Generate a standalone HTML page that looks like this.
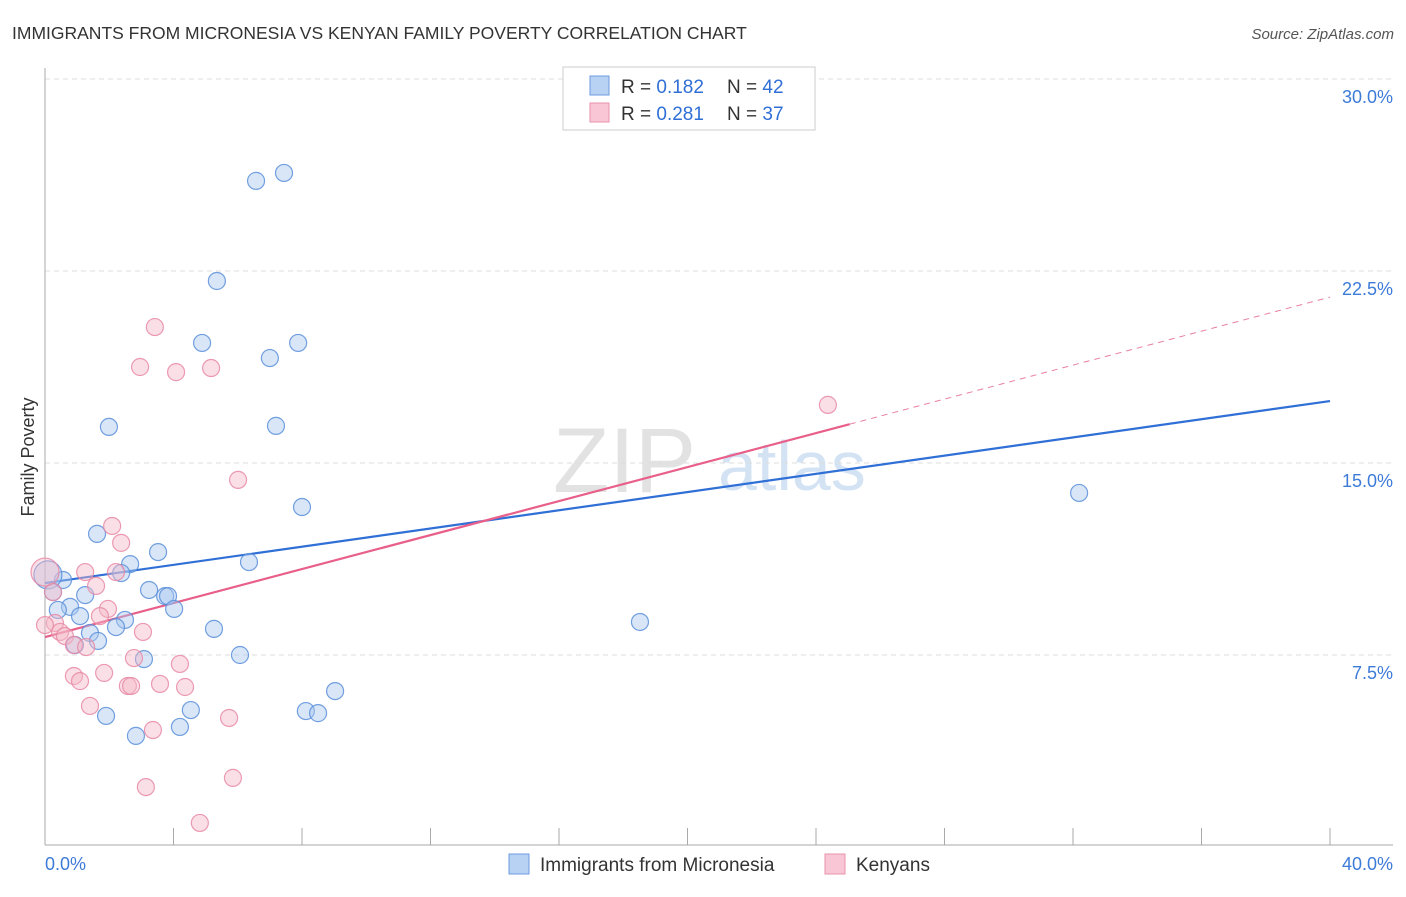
<!DOCTYPE html>
<html><head><meta charset="utf-8"><style>
body{margin:0;background:#fff;font-family:"Liberation Sans",sans-serif;}
svg text{font-family:"Liberation Sans",sans-serif;}
</style></head><body>
<svg id="chart" width="1406" height="892">
<text x="12" y="39" font-size="17.5" fill="#333">IMMIGRANTS FROM MICRONESIA VS KENYAN FAMILY POVERTY CORRELATION CHART</text>
<text x="1394" y="39" font-size="15" fill="#555" font-style="italic" text-anchor="end">Source: ZipAtlas.com</text>
<text x="34" y="457" font-size="18" fill="#333" transform="rotate(-90 34 457)" text-anchor="middle">Family Poverty</text>
<text x="553" y="492" font-size="92" fill="#e2e2e2" font-family="Liberation Serif">ZIP</text>
<text x="718" y="490" font-size="70" fill="#d4e3f4">atlas</text>
<g id="grid"></g><g id="axes"></g><g id="trends"></g><g id="pts"></g>
<g>
<rect x="563" y="67" width="252" height="63" fill="#fff" stroke="#ccc"/>
<rect x="590" y="76" width="19" height="19" fill="#b8d2f3" stroke="#6d9be0"/>
<rect x="590" y="103" width="19" height="19" fill="#f8c6d4" stroke="#ea93ad"/>
<text x="621" y="93" font-size="19" fill="#333">R = <tspan fill="#2f6fd6">0.182</tspan></text>
<text x="727" y="93" font-size="19" fill="#333">N = <tspan fill="#2f6fd6">42</tspan></text>
<text x="621" y="120" font-size="19" fill="#333">R = <tspan fill="#2f6fd6">0.281</tspan></text>
<text x="727" y="120" font-size="19" fill="#333">N = <tspan fill="#2f6fd6">37</tspan></text>
</g>
<g>
<rect x="509" y="854" width="20" height="20" fill="#b8d2f3" stroke="#6d9be0"/>
<text x="540" y="871" font-size="19" fill="#333">Immigrants from Micronesia</text>
<rect x="825" y="854" width="20" height="20" fill="#f8c6d4" stroke="#ea93ad"/>
<text x="856" y="871" font-size="19" fill="#333">Kenyans</text>
</g>
</svg>
<script>
const yTicks=[7.5,15,22.5,30];
const yTickLabels=["7.5%","15.0%","22.5%","30.0%"];
const xTickVals=[0,4,8,12,16,20,24,28,32,36,40];
const blueX=[6.57,7.44,5.35,4.89,7.88,7.00,1.99,7.19,8.00,32.19,1.62,3.52,2.65,6.35,2.37,0.56,0.09,3.24,1.25,3.74,3.83,0.25,0.78,0.40,1.09,4.02,2.49,1.40,2.21,5.26,18.52,0.93,1.65,3.08,6.07,9.03,4.54,8.12,8.50,1.90,4.20,2.83];
const blueY=[26.02,26.33,22.11,19.69,19.69,19.10,16.41,16.45,13.28,13.83,12.23,11.52,11.05,11.13,10.70,10.43,10.63,10.04,9.84,9.80,9.80,9.96,9.38,9.26,9.02,9.30,8.87,8.36,8.59,8.52,8.79,7.89,8.05,7.34,7.50,6.09,5.35,5.31,5.23,5.12,4.69,4.34];
const pinkX=[3.42,2.96,4.08,5.17,24.37,6.01,2.09,2.37,1.25,2.21,1.59,0.25,0.00,1.96,1.71,0.31,0.47,0.62,3.05,0.90,1.28,2.77,4.20,1.84,0.90,1.09,3.58,2.58,2.68,4.36,1.40,5.73,3.36,5.85,3.14,4.82,0.00];
const pinkY=[20.31,18.75,18.55,18.71,17.27,14.34,12.54,11.88,10.74,10.74,10.20,9.96,10.74,9.30,9.02,8.75,8.40,8.24,8.40,7.89,7.81,7.38,7.15,6.80,6.68,6.48,6.37,6.29,6.29,6.25,5.51,5.04,4.57,2.70,2.34,0.94,8.67];
const blueTrend=[10.31,17.42];
const pinkTrend=[8.20,21.48];
const pinkSolidEnd=25.05;
const NS="http://www.w3.org/2000/svg";
const X=v=>45+v/40*1285, Y=v=>847-v/7.5*192;
function mk(t,a,p){const e=document.createElementNS(NS,t);for(const k in a)e.setAttribute(k,a[k]);p.appendChild(e);return e;}
const grid=document.getElementById('grid'),axes=document.getElementById('axes'),tr=document.getElementById('trends'),pts=document.getElementById('pts');
yTicks.forEach((v,i)=>{
 const l=mk('line',{x1:45,x2:1393,y1:Y(v),y2:Y(v),stroke:'#ddd','stroke-dasharray':'5,4'},grid);
 
 
 const t=mk('text',{x:1393,y:Y(v)+24,'font-size':18,fill:'#3d7bd8','text-anchor':'end'},axes);
 t.textContent=yTickLabels[i];
 
 
});
mk('line',{x1:45,x2:45,y1:68,y2:845,stroke:'#aaa'},axes);
mk('line',{x1:45,x2:1393,y1:845,y2:845,stroke:'#aaa'},axes);
xTickVals.forEach(v=>{const l=mk('line',{x1:X(v),x2:X(v),y1:828,y2:845,stroke:'#aaa'},axes);
 
 });
const x0=mk('text',{x:45,y:870,'font-size':18,fill:'#3d7bd8'},axes);x0.textContent='0.0%';


const x1=mk('text',{x:1393,y:870,'font-size':18,fill:'#3d7bd8','text-anchor':'end'},axes);x1.textContent='40.0%';


const pY=x=>pinkTrend[0]+(pinkTrend[1]-pinkTrend[0])*x/40;
function dot(x,y,fill,stroke,name,r){const c=mk('circle',{cx:X(x),cy:Y(y),r:r,fill:fill,'fill-opacity':0.45,stroke:stroke,'stroke-opacity':0.85,'stroke-width':1.2},pts);
 
 }
blueX.forEach((x,i)=>dot(x,blueY[i],'#a9c8f0','#5b8fd9','micronesia-point',(i==16?14:8.5)));
pinkX.forEach((x,i)=>dot(x,pinkY[i],'#f5b8c8','#e88aa6','kenyan-point',(i==12?14:8.5)));
const bl=mk('line',{x1:X(0),y1:Y(blueTrend[0]),x2:X(40),y2:Y(blueTrend[1]),stroke:'#2f6fd6','stroke-width':2.2},tr);


const pl=mk('line',{x1:X(0),y1:Y(pinkTrend[0]),x2:X(pinkSolidEnd),y2:Y(pY(pinkSolidEnd)),stroke:'#e8608a','stroke-width':2.2},tr);


const pd=mk('line',{x1:X(pinkSolidEnd),y1:Y(pY(pinkSolidEnd)),x2:X(40),y2:Y(pinkTrend[1]),stroke:'#e8809f','stroke-width':1,'stroke-dasharray':'6,5'},tr);


</script>
</body></html>
